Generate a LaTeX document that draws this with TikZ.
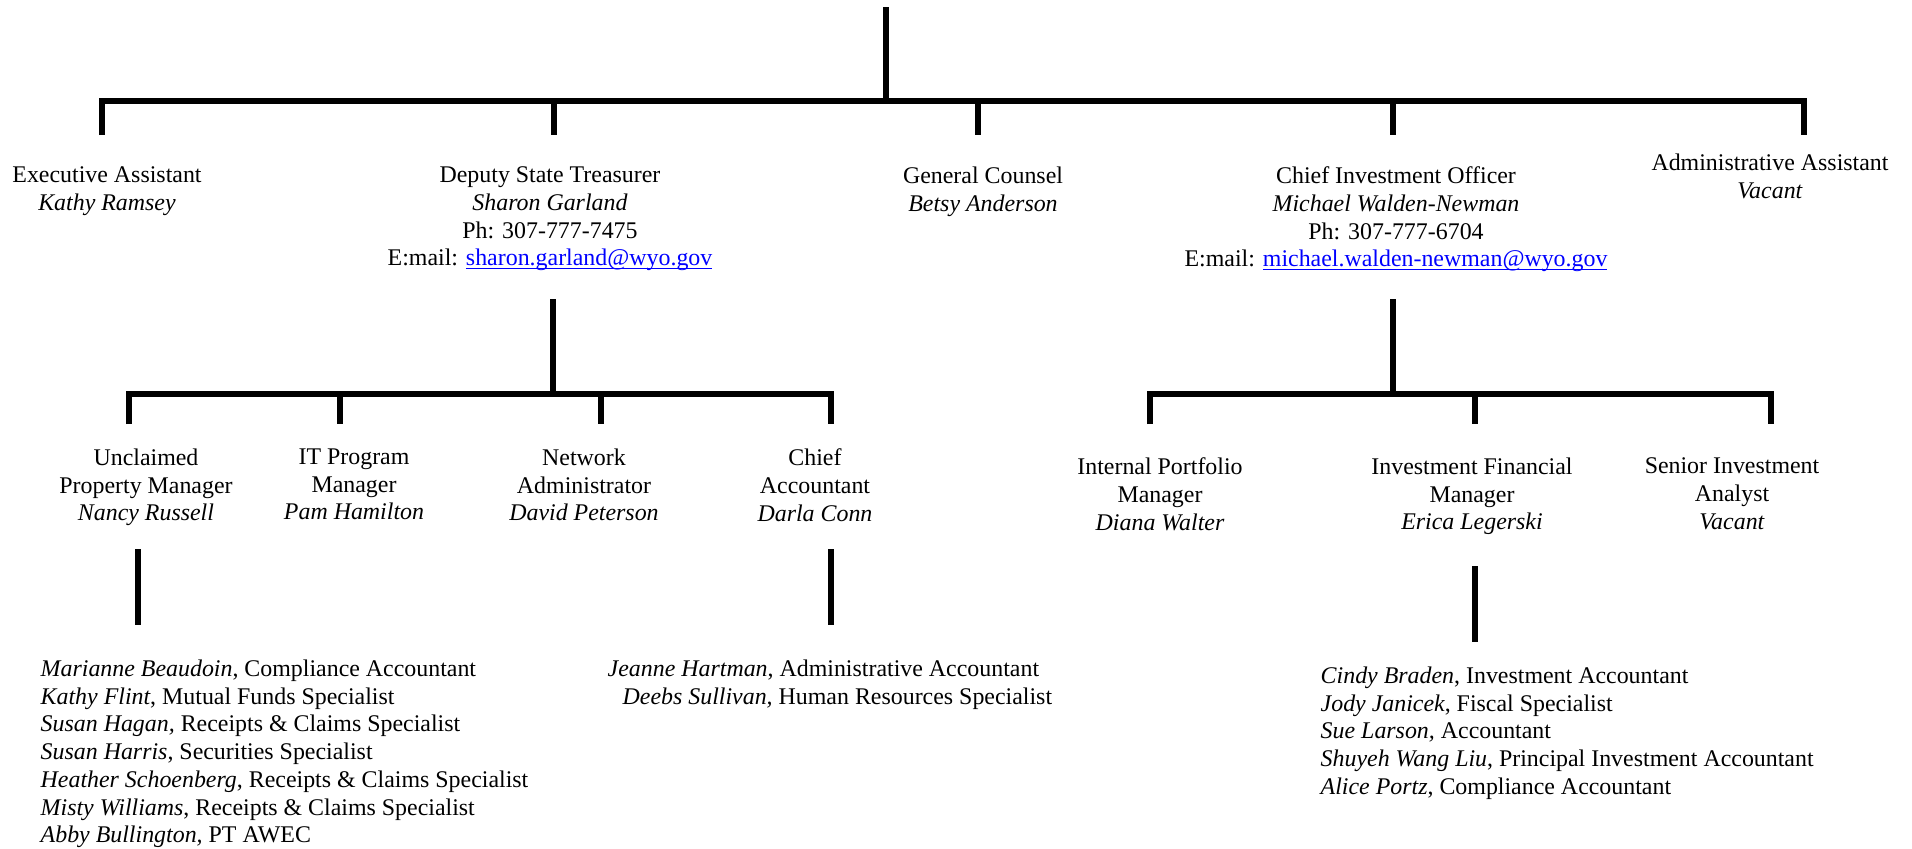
\documentclass[tikz,border=0pt]{standalone}
\usepackage{fontspec}
\setmainfont{Liberation Serif}
\usepackage{tikz}
\newcommand{\wyomail}[1]{\textcolor{blue}{\setbox0\hbox{#1}\rlap{\rule[-0.9pt]{\wd0}{0.4pt}}\box0}}
\tikzstyle{post}=[align=center, anchor=north, inner sep=0pt, font=\fontsize{6.8}{7.9}\selectfont]
\tikzstyle{staff}=[align=left, anchor=north west, inner sep=0pt, font=\fontsize{6.8}{7.9}\selectfont]
\tikzstyle{bar}=[line width=1.6pt, line join=miter]

\begin{document}
\begin{tikzpicture}
\useasboundingbox (0,0) rectangle (19.12,-8.48);

% top level
\coordinate (root) at (8.86,-0.07);
\coordinate (hub) at (8.86,-1.01);
\coordinate (execTop) at (1.02,-1.01);
\coordinate (execEnd) at (1.02,-1.35);
\coordinate (depTop) at (5.54,-1.01);
\coordinate (depEnd) at (5.54,-1.35);
\coordinate (gcTop) at (9.78,-1.01);
\coordinate (gcEnd) at (9.78,-1.35);
\coordinate (cioTop) at (13.93,-1.01);
\coordinate (cioEnd) at (13.93,-1.35);
\coordinate (adminTop) at (18.04,-1.01);
\coordinate (adminEnd) at (18.04,-1.35);

\node [post] (exec) at (1.07,-1.66) {Executive Assistant\\\textit{Kathy Ramsey}};
\node [post] (deputy) at (5.50,-1.66) {Deputy State Treasurer\\\textit{Sharon Garland}\\Ph: 307-777-7475\\E:mail: \wyomail{sharon.garland@wyo.gov}};
\node [post] (counsel) at (9.83,-1.66) {General Counsel\\\textit{Betsy Anderson}};
\node [post] (cio) at (13.96,-1.66) {Chief Investment Officer\\\textit{Michael Walden-Newman}\\Ph: 307-777-6704\\E:mail: \wyomail{michael.walden-newman@wyo.gov}};
\node [post] (admin) at (17.70,-1.53) {Administrative Assistant\\\textit{Vacant}};

\draw [bar] (root) -- (hub);
\draw [bar] (execEnd) -- (execTop) -- (adminTop) -- (adminEnd);
\draw [bar] (depTop) -- (depEnd);
\draw [bar] (gcTop) -- (gcEnd);
\draw [bar] (cioTop) -- (cioEnd);

% deputy state treasurer branch
\coordinate (depStem) at (5.53,-2.99);
\coordinate (depHub) at (5.53,-3.94);
\coordinate (ucpTop) at (1.29,-3.94);
\coordinate (ucpEnd) at (1.29,-4.24);
\coordinate (itTop) at (3.40,-3.94);
\coordinate (itEnd) at (3.40,-4.24);
\coordinate (netTop) at (6.01,-3.94);
\coordinate (netEnd) at (6.01,-4.24);
\coordinate (caTop) at (8.31,-3.94);
\coordinate (caEnd) at (8.31,-4.24);

\node [post] (unclaimed) at (1.46,-4.48) {Unclaimed\\Property Manager\\\textit{Nancy Russell}};
\node [post] (itpm) at (3.54,-4.48) {IT Program\\Manager\\\textit{Pam Hamilton}};
\node [post] (netadmin) at (5.84,-4.48) {Network\\Administrator\\\textit{David Peterson}};
\node [post] (chiefacct) at (8.15,-4.48) {Chief\\Accountant\\\textit{Darla Conn}};

\draw [bar] (depStem) -- (depHub);
\draw [bar] (ucpEnd) -- (ucpTop) -- (caTop) -- (caEnd);
\draw [bar] (itTop) -- (itEnd);
\draw [bar] (netTop) -- (netEnd);

% chief investment officer branch
\coordinate (cioStem) at (13.93,-2.99);
\coordinate (cioHub) at (13.93,-3.94);
\coordinate (ipmTop) at (11.50,-3.94);
\coordinate (ipmEnd) at (11.50,-4.24);
\coordinate (ifmTop) at (14.75,-3.94);
\coordinate (ifmEnd) at (14.75,-4.24);
\coordinate (siaTop) at (17.71,-3.94);
\coordinate (siaEnd) at (17.71,-4.24);

\node [post] (portfolio) at (11.60,-4.57) {Internal Portfolio\\Manager\\\textit{Diana Walter}};
\node [post] (finmgr) at (14.72,-4.57) {Investment Financial\\Manager\\\textit{Erica Legerski}};
\node [post] (analyst) at (17.32,-4.57) {Senior Investment\\Analyst\\\textit{Vacant}};

\draw [bar] (cioStem) -- (cioHub);
\draw [bar] (ipmEnd) -- (ipmTop) -- (siaTop) -- (siaEnd);
\draw [bar] (ifmTop) -- (ifmEnd);

% staff
\coordinate (ucpStaffTop) at (1.38,-5.49);
\coordinate (ucpStaffEnd) at (1.38,-6.25);
\coordinate (caStaffTop) at (8.31,-5.49);
\coordinate (caStaffEnd) at (8.31,-6.25);
\coordinate (ifmStaffTop) at (14.75,-5.66);
\coordinate (ifmStaffEnd) at (14.75,-6.42);

\draw [bar] (ucpStaffTop) -- (ucpStaffEnd);
\draw [bar] (caStaffTop) -- (caStaffEnd);
\draw [bar] (ifmStaffTop) -- (ifmStaffEnd);

\node [staff] (ucpstaff) at (0.40,-6.59) {\textit{Marianne Beaudoin}, Compliance Accountant\\
\textit{Kathy Flint}, Mutual Funds Specialist\\
\textit{Susan Hagan,} Receipts \& Claims Specialist\\
\textit{Susan Harris}, Securities Specialist\\
\textit{Heather Schoenberg}, Receipts \& Claims Specialist\\
\textit{Misty Williams}, Receipts \& Claims Specialist\\
\textit{Abby Bullington,} PT AWEC};
\node [staff] (castaff) at (6.07,-6.59) {\textit{Jeanne Hartman}, Administrative Accountant\\
\hspace{0.15cm}\textit{Deebs Sullivan,} Human Resources Specialist};
\node [staff] (ifmstaff) at (13.20,-6.66) {\textit{Cindy Braden}, Investment Accountant\\
\textit{Jody Janicek}, Fiscal Specialist\\
\textit{Sue Larson,} Accountant\\
\textit{Shuyeh Wang Liu}, Principal Investment Accountant\\
\textit{Alice Portz}, Compliance Accountant};

\end{tikzpicture}
\end{document}
